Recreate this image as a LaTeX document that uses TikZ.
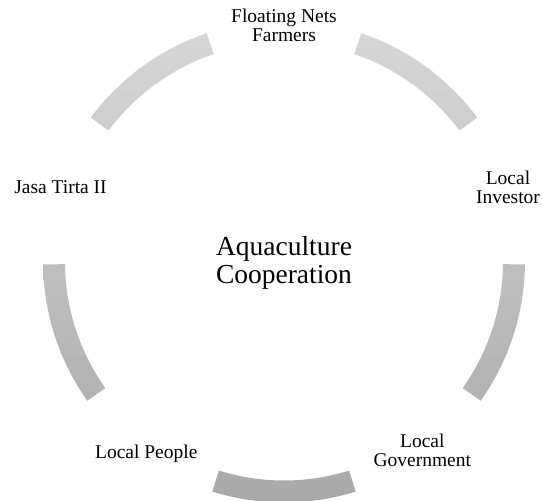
\documentclass[tikz,border=0pt]{standalone}
\usepackage{fontspec}
\setmainfont{Liberation Serif}
\definecolor{ringtop}{HTML}{D6D6D6}
\definecolor{ringbottom}{HTML}{A8A8A8}
\tikzset{
  party/.style={font=\fontsize{19.5}{19}\selectfont, align=center, inner sep=0pt},
  hub/.style={font=\fontsize{27.5}{28}\selectfont, align=center, inner sep=0pt}
}
\begin{document}
\begin{tikzpicture}[x=1pt,y=1pt]
    \def \rout{241}
    \def \rin{219}
    \def \halfspan{17.3}
    \useasboundingbox (-284,-239.5) rectangle (258,261.5);

    % Draw the ring of arcs between the partners
    \shade[top color=ringtop, bottom color=ringbottom]
      \foreach \mid in {54,-18,-90,-162,126} {
        (\mid+\halfspan:\rout) arc[start angle=\mid+\halfspan, end angle=\mid-\halfspan, radius=\rout]
        -- (\mid-\halfspan:\rin) arc[start angle=\mid-\halfspan, end angle=\mid+\halfspan, radius=\rin] -- cycle
      };

    % Centre text
    \node[hub] (coop) at (0,-1) {Aquaculture\\Cooperation};

    % Partners around the ring
    \node[party] (farmers) at (0,236.5) {Floating Nets\\Farmers};
    \node[party] (investor) at (224,74) {Local\\Investor};
    \node[party] (government) at (138.3,-189) {Local\\Government};
    \node[party, anchor=base] (people) at (-137.7,-196.8) {Local People};
    \node[party, anchor=base] (jasa) at (-223.5,67.5) {Jasa Tirta II};
\end{tikzpicture}
\end{document}
